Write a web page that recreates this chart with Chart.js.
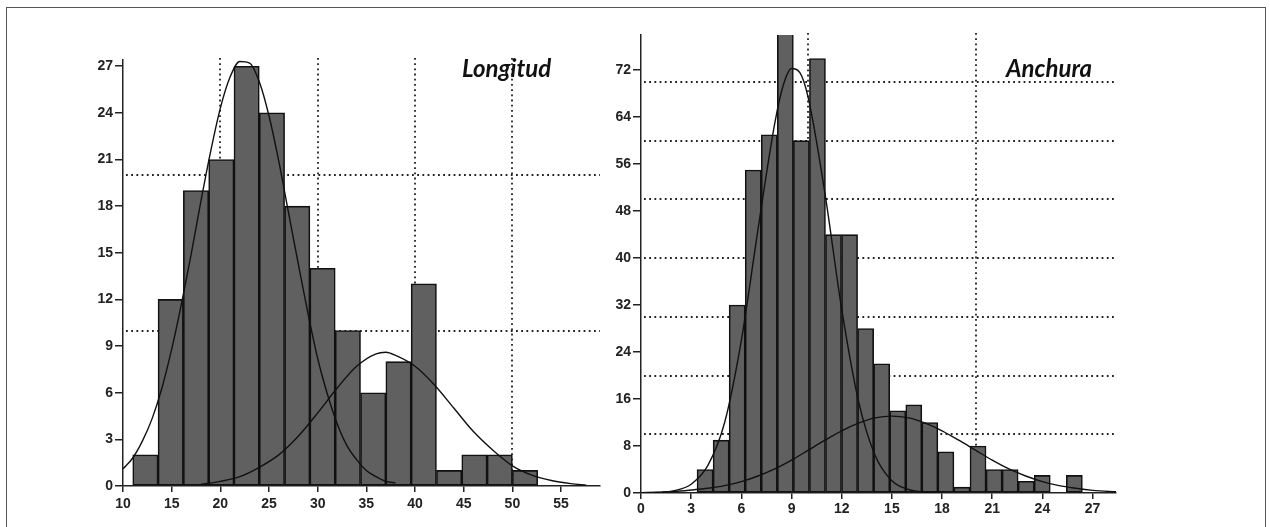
<!DOCTYPE html>
<html>
<head>
<meta charset="utf-8">
<script src="https://cdn.jsdelivr.net/npm/chart.js@4.4.1/dist/chart.umd.min.js"></script>
<style>
  body { margin: 0; background: #fff; width: 1270px; height: 527px; overflow: hidden; position: relative; }
  .frame { position: absolute; left: 6px; top: 7px; width: 1258px; height: 600px;
           border: 1.5px solid #555; border-bottom: none; }
  canvas { position: absolute; top: 0; }
  #lenChart { left: 0; }
  #widChart { left: 580px; }
  .ttl { position: absolute; font-family: Lato, sans-serif; font-weight: bold; font-style: italic;
         font-size: 24px; color: #111; }
</style>
</head>
<body>
<div class="frame"></div>
<canvas id="lenChart" width="630" height="527"></canvas>
<canvas id="widChart" width="690" height="527"></canvas>
<div class="ttl" style="left:462px; top:53px;">Longitud</div>
<div class="ttl" style="left:1006px; top:53px;">Anchura</div>
<script>
// Longitud histogram (bin centres and counts)
const lenBins = [12.3, 14.9, 17.5, 20.1, 22.7, 25.3, 27.9, 30.5, 33.1, 35.7, 38.3, 40.9, 43.5, 46.1, 48.7, 51.3];
const lenCounts = [2, 12, 19, 21, 27, 24, 18, 14, 10, 6, 8, 13, 1, 2, 2, 1];
// fitted curves
const lenCurve1X = [10, 11, 12, 13, 14, 15, 16, 17, 18, 19, 20, 21, 22, 23, 24, 25, 26, 27, 28, 29, 30, 31, 32, 33, 34, 35, 36, 37, 38];
const lenCurve1Y = [1.1, 1.8, 2.9, 4.35, 6.3, 8.8, 11.7, 14.9, 18.3, 21.5, 24.3, 26.3, 27.3, 27.2, 26.0, 23.8, 20.9, 17.6, 14.3, 11.1, 8.2, 5.9, 4.0, 2.6, 1.7, 1.0, 0.6, 0.3, 0.2];
const lenCurve2X = [18, 20, 22, 24, 26, 28, 30, 32, 34, 36, 37, 38, 40, 42, 44, 46, 48, 50, 52, 54, 56, 57.6];
const lenCurve2Y = [0.1, 0.3, 0.6, 1.2, 2.0, 3.2, 4.7, 6.3, 7.7, 8.5, 8.6, 8.4, 7.7, 6.5, 5.0, 3.5, 2.3, 1.3, 0.7, 0.35, 0.15, 0.05];
const lenGridX = [20, 30, 40, 50];
const lenGridY = [10, 20];

// Anchura histogram
const widBins = [3.83, 4.79, 5.75, 6.71, 7.67, 8.63, 9.59, 10.55, 11.51, 12.47, 13.43, 14.39, 15.35, 16.31, 17.27, 18.23, 19.19, 20.15, 21.11, 22.07, 23.03, 23.99, 24.95, 25.91];
const widCounts = [4, 9, 32, 55, 61, 80, 60, 74, 44, 44, 28, 22, 14, 15, 12, 7, 1, 8, 4, 4, 2, 3, 0, 3];
const widCurve1X = [0, 1, 2, 3, 4, 5, 6, 7, 8, 8.5, 9, 9.5, 10, 11, 12, 13, 14, 15, 16, 17, 18];
const widCurve1Y = [0.01, 0.08, 0.4, 1.5, 4.7, 12, 26, 45, 63, 69.4, 72.3, 71.6, 67.3, 51, 31.3, 15.7, 6.4, 2.1, 0.6, 0.12, 0.02];
const widCurve2X = [0, 1, 2, 3, 4, 5, 6, 7, 8, 9, 10, 11, 12, 13, 14, 15, 16, 17, 18, 19, 20, 21, 22, 23, 24, 25, 26, 27, 28, 28.4];
const widCurve2Y = [0.06, 0.13, 0.25, 0.5, 0.8, 1.25, 1.95, 2.9, 4.1, 5.6, 7.3, 9.0, 10.6, 11.9, 12.8, 13.1, 12.8, 11.9, 10.6, 9.0, 7.3, 5.6, 4.1, 2.9, 1.95, 1.25, 0.8, 0.45, 0.25, 0.2];
const widGridX = [10, 20];
const widGridY = [10, 20, 30, 40, 50, 60, 70];

const toPts = (xs, ys) => xs.map((x, i) => ({ x: x, y: ys[i] }));

// dotted reference lines drawn behind the bars
const dotGrid = {
  id: 'dotGrid',
  beforeDatasetsDraw(chart, args, opts) {
    const { ctx, chartArea: a, scales: { x, y } } = chart;
    ctx.save();
    ctx.strokeStyle = '#222';
    ctx.lineWidth = 1.8;
    ctx.setLineDash([1.8, 3.4]);
    opts.xs.forEach(v => {
      const px = Math.round(x.getPixelForValue(v));
      ctx.beginPath(); ctx.moveTo(px, a.top - 2); ctx.lineTo(px, a.bottom); ctx.stroke();
    });
    opts.ys.forEach(v => {
      const py = Math.round(y.getPixelForValue(v));
      ctx.beginPath(); ctx.moveTo(a.left + 3, py); ctx.lineTo(a.right, py); ctx.stroke();
    });
    ctx.restore();
  }
};

const tickFont = { family: '"Liberation Sans", Arial, sans-serif', size: 14, weight: 'bold' };

function makeChart(id, bins, counts, curves, xr, yr, grid, pad, xpad) {
  const ds = [{
    type: 'bar',
    data: toPts(bins, counts),
    backgroundColor: '#606060',
    borderColor: '#111',
    borderWidth: 1.6,
    borderSkipped: false,
    barPercentage: 1,
    categoryPercentage: 1,
    clip: 0,
    order: 2
  }];
  curves.forEach(c => ds.push({
    type: 'line',
    data: toPts(c[0], c[1]),
    borderColor: '#111',
    borderWidth: 1.4,
    pointRadius: 0,
    cubicInterpolationMode: 'monotone',
    order: 1
  }));
  return new Chart(document.getElementById(id), {
    type: 'bar',
    data: { datasets: ds },
    options: {
      responsive: false,
      animation: false,
      devicePixelRatio: 1,
      layout: { padding: pad },
      plugins: { legend: { display: false }, tooltip: { enabled: false }, dotGrid: grid },
      scales: {
        x: {
          type: 'linear', min: xr[0], max: xr[1], offset: false,
          afterFit: s => { s.height = xr[3]; },
          grid: { drawOnChartArea: false, offset: false, tickLength: 6, color: '#222', lineWidth: 1.5 },
          border: { color: '#222', width: 1.5 },
          ticks: { stepSize: xr[2], includeBounds: false, font: tickFont, color: '#222', padding: xpad, maxRotation: 0 }
        },
        y: {
          min: 0, max: yr[0],
          afterFit: s => { s.width = 50; },
          grid: { drawOnChartArea: false, tickLength: 8, color: '#222', lineWidth: 1.5 },
          border: { color: '#222', width: 1.5 },
          ticks: { stepSize: yr[1], includeBounds: false, font: tickFont, color: '#222', padding: 2 }
        }
      }
    },
    plugins: [dotGrid]
  });
}

makeChart('lenChart', lenBins, lenCounts,
  [[lenCurve1X, lenCurve1Y], [lenCurve2X, lenCurve2Y]],
  [10, 59, 5, 41], [27.4, 3], { xs: lenGridX, ys: lenGridY },
  { left: 73, top: 60, right: 30, bottom: 0 }, 4);

makeChart('widChart', widBins, widCounts,
  [[widCurve1X, widCurve1Y], [widCurve2X, widCurve2Y]],
  [0, 28.4, 3, 34], [78, 8], { xs: widGridX, ys: widGridY },
  { left: 11, top: 35, right: 154, bottom: 0 }, 2);
</script>
</body>
</html>
